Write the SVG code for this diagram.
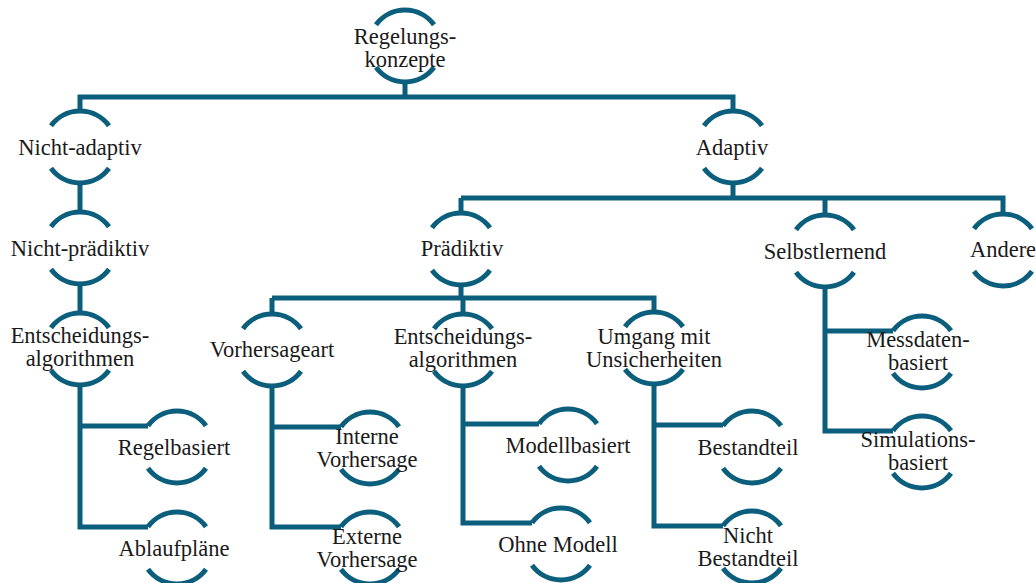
<svg xmlns="http://www.w3.org/2000/svg" xmlns:xlink="http://www.w3.org/1999/xlink" width="1036" height="583" viewBox="0 0 1036 583">
<style>
.ring{fill:none;stroke:#0b5f7c;stroke-width:5}
.con{fill:none;stroke:#0b5f7c;stroke-width:5;stroke-linejoin:miter;stroke-linecap:butt}
text{font-family:"Liberation Serif","Times New Roman",serif;font-size:22.5px;fill:#1a1a1a;text-anchor:middle}
</style>
<defs>
<path id="r" class="ring" d="M-29,-21.3 A36,36 0 0 1 29,-21.3 M-29,21.3 A36,36 0 0 0 29,21.3"/>
</defs>
<rect width="1036" height="583" fill="#fff"/>
<g id="connectors" class="con">
<path d="M405,82V97 M77.5,97H735.5 M80,97V112 M733,97V112"/>
<path d="M80,183V213 M80,284V314"/>
<path d="M80,385V527H148 M80,426H148"/>
<path d="M733,183V198 M461,198H1005.5 M461,198V213 M825,198V215 M1003,198V214"/>
<path d="M461,284V298 M272,298H656.5 M272,298V314 M463,298V314 M654,298V313"/>
<path d="M272,385V527H341 M272,427H341"/>
<path d="M463,385V523H532 M463,424H539"/>
<path d="M654,384V526H723 M654,425H723"/>
<path d="M825,286V431H893 M825,331H893"/>
</g>
<g id="n-root"><use xlink:href="#r" x="405" y="46"/><text x="405" y="44">Regelungs-</text><text x="405" y="67">konzepte</text></g>
<g id="n-nichtadaptiv"><use xlink:href="#r" x="80" y="147"/><text x="80" y="155">Nicht-adaptiv</text></g>
<g id="n-nichtpraediktiv"><use xlink:href="#r" x="80" y="248"/><text x="80" y="256">Nicht-prädiktiv</text></g>
<g id="n-entsch1"><use xlink:href="#r" x="80" y="349"/><text x="80" y="343">Entscheidungs-</text><text x="80" y="366">algorithmen</text></g>
<g id="n-regelbasiert"><use xlink:href="#r" x="177" y="447"/><text x="174" y="455">Regelbasiert</text></g>
<g id="n-ablaufplaene"><use xlink:href="#r" x="177" y="548"/><text x="174" y="556">Ablaufpläne</text></g>
<g id="n-adaptiv"><use xlink:href="#r" x="733" y="147"/><text x="732" y="155">Adaptiv</text></g>
<g id="n-praediktiv"><use xlink:href="#r" x="461" y="249"/><text x="462" y="256">Prädiktiv</text></g>
<g id="n-selbstlernend"><use xlink:href="#r" x="825" y="251"/><text x="825" y="259">Selbstlernend</text></g>
<g id="n-andere"><use xlink:href="#r" x="1003" y="250"/><text x="1003" y="257">Andere</text></g>
<g id="n-vorhersageart"><use xlink:href="#r" x="272" y="350"/><text x="272" y="357">Vorhersageart</text></g>
<g id="n-entsch2"><use xlink:href="#r" x="463" y="350"/><text x="463" y="344">Entscheidungs-</text><text x="463" y="367">algorithmen</text></g>
<g id="n-umgang"><use xlink:href="#r" x="654" y="348"/><text x="654" y="344">Umgang mit</text><text x="654" y="367">Unsicherheiten</text></g>
<g id="n-interne"><use xlink:href="#r" x="370" y="448"/><text x="367" y="444">Interne</text><text x="367" y="467">Vorhersage</text></g>
<g id="n-externe"><use xlink:href="#r" x="370" y="548"/><text x="367" y="544">Externe</text><text x="367" y="567">Vorhersage</text></g>
<g id="n-modellbasiert"><use xlink:href="#r" x="568" y="445"/><text x="568" y="453">Modellbasiert</text></g>
<g id="n-ohnemodell"><use xlink:href="#r" x="561" y="544"/><text x="558" y="552">Ohne Modell</text></g>
<g id="n-bestandteil"><use xlink:href="#r" x="752" y="447"/><text x="748" y="455">Bestandteil</text></g>
<g id="n-nichtbestandteil"><use xlink:href="#r" x="752" y="547"/><text x="748" y="543">Nicht</text><text x="748" y="566">Bestandteil</text></g>
<g id="n-messdaten"><use xlink:href="#r" x="922" y="352"/><text x="918" y="347">Messdaten-</text><text x="918" y="370">basiert</text></g>
<g id="n-simulation"><use xlink:href="#r" x="922" y="452"/><text x="918" y="447">Simulations-</text><text x="918" y="470">basiert</text></g>
</svg>
